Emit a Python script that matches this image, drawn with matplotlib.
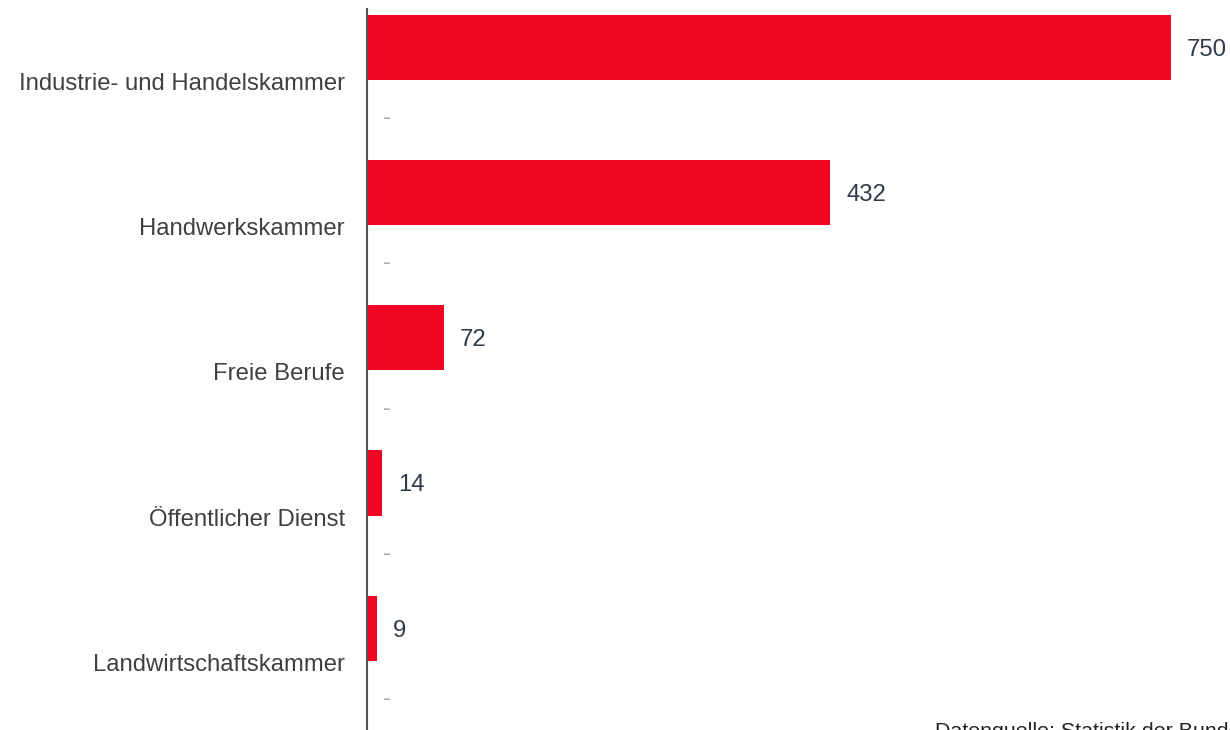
import matplotlib
matplotlib.use("Agg")
import matplotlib.pyplot as plt
import numpy as np

plt.rcParams['font.family'] = ['Liberation Sans', 'DejaVu Sans']

# Ausbildungsbereiche und Werte
kategorien = [
    "Industrie- und Handelskammer",
    "Handwerkskammer",
    "Freie Berufe",
    "Öffentlicher Dienst",
    "Landwirtschaftskammer",
]
werte = [750, 432, 72, 14, 9]
werte_vergleich = [None, None, None, None, None]  # keine Angaben -> "-"
quelle = "Datenquelle: Statistik der Bundesagentur für Arbeit"

ROT = "#EE0623"
WERT_FARBE = "#2F3A4A"
LABEL_FARBE = "#404040"
STRICH_FARBE = "#A8A8A8"

fig = plt.figure(figsize=(12.3, 7.3), dpi=100)
ax = fig.add_axes([367 / 1230, -5 / 730, 1 - 367 / 1230, (730 - 8.75 + 5) / 730])

pos = np.arange(len(kategorien))
versatz = 0.235
hoehe = 0.45

ax.barh(pos - versatz, werte, height=hoehe, color=ROT, zorder=2)

pad = 16 * 805 / 863  # 16 px in Datenkoordinaten
for y, v in zip(pos, werte):
    ax.text(v + pad, y - versatz, f"{v}", va="center_baseline", ha="left",
            fontsize=17.2, color=WERT_FARBE)

for y, v in zip(pos, werte_vergleich):
    wert = 0 if v is None else v
    txt = "-" if v is None else f"{v}"
    if v is not None:
        ax.barh(y + versatz, v, height=hoehe, color=ROT, zorder=2)
    ax.text(wert + pad, y + versatz, txt, va="center_baseline", ha="left",
            fontsize=17.2, color=STRICH_FARBE if v is None else WERT_FARBE)

ax.set_xlim(0, 805)
ax.set_ylim(len(kategorien) - 0.5, -0.5)
ax.set_yticks(pos)
ax.set_yticklabels(kategorien, fontsize=17.2, color=LABEL_FARBE)
ax.tick_params(axis="y", length=0, pad=15.8)
ax.set_xticks([])

for s in ["top", "right", "bottom"]:
    ax.spines[s].set_visible(False)
ax.spines["left"].set_color("#555555")
ax.spines["left"].set_linewidth(1.5)
ax.spines["left"].set_zorder(3)

fig.text(935 / 1230, 8 / 730, quelle, ha="left", va="top",
         fontsize=15.4, color="#222222")

fig.savefig("out.png", dpi=100)
